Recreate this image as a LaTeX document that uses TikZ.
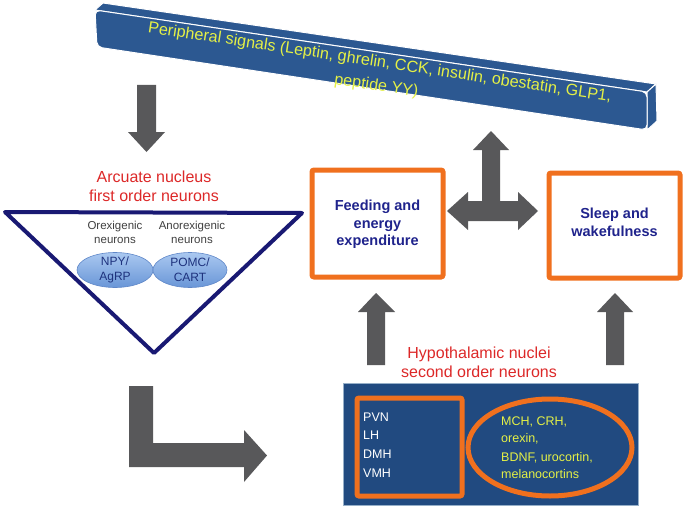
\documentclass[tikz,border=0pt]{standalone}
\usepackage{fontspec}
\setmainfont{Liberation Sans}
\usetikzlibrary{shapes.geometric}
\definecolor{barblue}{RGB}{44,88,145}
\definecolor{boxblue}{RGB}{33,74,128}
\definecolor{boxedge}{RGB}{150,175,200}
\definecolor{agray}{RGB}{88,88,90}
\definecolor{orng}{RGB}{240,112,30}
\definecolor{navytxt}{RGB}{31,35,140}
\definecolor{trinavy}{RGB}{25,25,115}
\definecolor{redtxt}{RGB}{220,40,40}
\definecolor{ylw}{RGB}{228,240,70}
\definecolor{graytxt}{RGB}{64,64,64}
\definecolor{elltxt}{RGB}{30,50,125}
\definecolor{elledge}{RGB}{95,135,200}
\definecolor{elltop}{RGB}{170,200,240}
\definecolor{ellbot}{RGB}{105,150,215}
\begin{document}
\begin{tikzpicture}[x=1pt,y=-1pt,
  blockarrow/.style={fill=agray,draw=none},
  obox/.style={draw=orng,line width=5pt,fill=white,rounded corners=2pt},
  face/.style={fill=barblue,draw=white,line width=1pt,line join=round},
  ell/.style={ellipse,draw=elledge,line width=0.6pt,top color=elltop,bottom color=ellbot},
  bluetxt/.style={text=navytxt,font=\bfseries\fontsize{14.5}{17.5}\selectfont,align=center},
  redlbl/.style={text=redtxt,font=\fontsize{16}{19}\selectfont,align=center},
  smallgray/.style={text=graytxt,font=\fontsize{11.5}{14}\selectfont,align=center},
  whl/.style={text=white,font=\fontsize{12.5}{15}\selectfont,anchor=base west,inner sep=0pt},
  yll/.style={text=ylw,font=\fontsize{12.5}{15}\selectfont,anchor=base west,inner sep=0pt}]
\useasboundingbox (0,0) rectangle (687,508);

% top bar (3D)
\path[face] (95,10) -- (103,3) -- (656,84) -- (647,92) -- cycle;
\path[face] (647,92) -- (656,84) -- (657,121) -- (647,130) -- cycle;
\path[face,rounded corners=5pt] (95,10) -- (647,92) -- (647,130) -- (97,47) -- cycle;
\node[text=ylw,font=\fontsize{16.2}{23.5}\selectfont,align=center,rotate=-8.5,inner sep=0pt] (periph) at (378,74.5)
  {Peripheral signals (Leptin, ghrelin, CCK, insulin, obestatin, GLP1,\\peptide YY)};

% down arrow
\path[blockarrow] (137,85) -- (156,85) -- (156,132) -- (165,132) -- (146.5,152) -- (128,132) -- (137,132) -- cycle;

% arcuate
\node[redlbl] (arc) at (154,186) {Arcuate nucleus\\first order neurons};
\draw[trinavy,line width=4pt,line join=round] (5,212) -- (302,213) -- (154,353) -- cycle;
\node[smallgray] (orex) at (115,232) {Orexigenic\\neurons};
\node[smallgray] (anorex) at (192,232) {Anorexigenic\\neurons};
\node[ell,minimum width=76pt,minimum height=35pt,inner sep=0pt] (npy) at (115,270) {};
\node[ell,minimum width=74pt,minimum height=35pt,inner sep=0pt] (pomc) at (190,270) {};
\node[text=elltxt,font=\fontsize{12}{15}\selectfont,align=center] at (npy) {NPY/\\AgRP};
\node[text=elltxt,font=\fontsize{12}{15}\selectfont,align=center] at (pomc) {POMC/\\CART};

% boxes
\draw[obox] (312,170) rectangle (443,277);
\node[bluetxt] (feed) at (377.5,224.5) {Feeding and\\energy\\expenditure};
\draw[obox] (549,173) rectangle (680,278);
\node[bluetxt] (sleep) at (614.5,222.5) {Sleep and\\wakefulness};

% cross arrow
\path[blockarrow] (447,211) -- (468,192) -- (468,201) -- (482,201) -- (482,150) -- (473,150) -- (491,131)
  -- (509,150) -- (500,150) -- (500,201) -- (518,201) -- (518,192) -- (538,211) -- (518,230)
  -- (518,221) -- (468,221) -- (468,230) -- cycle;

% up arrows
\path[blockarrow] (367,365) -- (367,312) -- (358,312) -- (376,293) -- (395,312) -- (385,312) -- (385,365) -- cycle;
\path[blockarrow] (606,365) -- (606,312) -- (597,312) -- (615,293) -- (633,312) -- (624,312) -- (624,365) -- cycle;

% hypothalamic
\node[redlbl] (hyp) at (479,362) {Hypothalamic nuclei\\second order neurons};
\fill[boxblue] (343,383) rectangle (638,505);
\draw[boxedge,line width=0.5pt] (343,383) rectangle (638,505);
\draw[orng,line width=5pt,rounded corners=2pt] (357,398) rectangle (462,496);
\draw[orng,line width=5pt] (550,447.5) ellipse [x radius=82, y radius=48.5];
\node[whl] (pvn) at (363,421.5) {PVN};
\node[whl] (lh) at (363,439) {LH};
\node[whl] (dmh) at (363,458.5) {DMH};
\node[whl] (vmh) at (363,477.5) {VMH};
\node[yll] (mch) at (501,425.5) {MCH, CRH,};
\node[yll] (orx) at (501,442.5) {orexin,};
\node[yll] (bdnf) at (501,461) {BDNF, urocortin,};
\node[yll] (mel) at (501,478) {melanocortins};

% L arrow
\path[blockarrow] (129,386) -- (153,386) -- (153,443) -- (244,443) -- (244,430) -- (267,455.5) -- (244,482) -- (244,467) -- (129,467) -- cycle;
\end{tikzpicture}
\end{document}
